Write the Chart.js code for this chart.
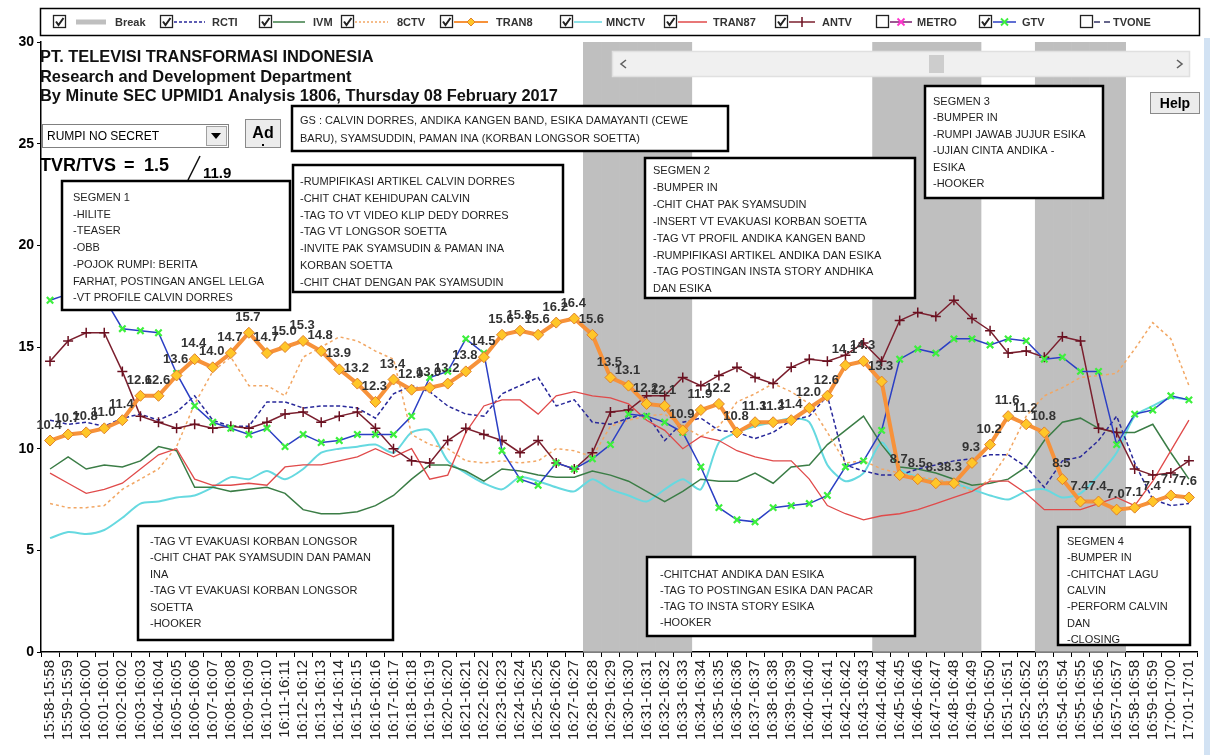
<!DOCTYPE html>
<html><head><meta charset="utf-8">
<script src="https://cdn.jsdelivr.net/npm/chart.js@4.4.1/dist/chart.umd.min.js"></script>
<style>html,body{margin:0;padding:0;background:#fff;}canvas{display:block;}</style>
</head><body>
<canvas id="c" width="1210" height="755"></canvas>
<script>
const timeLabels = ["15:58-15:58","15:59-15:59","16:00-16:00","16:01-16:01","16:02-16:02","16:03-16:03","16:04-16:04","16:05-16:05","16:06-16:06","16:07-16:07","16:08-16:08","16:09-16:09","16:10-16:10","16:11-16:11","16:12-16:12","16:13-16:13","16:14-16:14","16:15-16:15","16:16-16:16","16:17-16:17","16:18-16:18","16:19-16:19","16:20-16:20","16:21-16:21","16:22-16:22","16:23-16:23","16:24-16:24","16:25-16:25","16:26-16:26","16:27-16:27","16:28-16:28","16:29-16:29","16:30-16:30","16:31-16:31","16:32-16:32","16:33-16:33","16:34-16:34","16:35-16:35","16:36-16:36","16:37-16:37","16:38-16:38","16:39-16:39","16:40-16:40","16:41-16:41","16:42-16:42","16:43-16:43","16:44-16:44","16:45-16:45","16:46-16:46","16:47-16:47","16:48-16:48","16:49-16:49","16:50-16:50","16:51-16:51","16:52-16:52","16:53-16:53","16:54-16:54","16:55-16:55","16:56-16:56","16:57-16:57","16:58-16:58","16:59-16:59","17:00-17:00","17:01-17:01"];
const yTicks = [0,5,10,15,20,25,30];
const seriesNames = ["Break","RCTI","IVM","8CTV","TRAN8","MNCTV","TRAN87","ANTV","METRO","GTV","TVONE"];
const seriesChecked = [true,true,true,true,true,true,true,true,false,true,false];

const breakBand = [null,null,null,null,null,null,null,null,null,null,null,null,null,null,null,null,null,null,null,null,null,null,null,null,null,null,null,null,null,null,
 30,30,30,30,30,30,
 null,null,null,null,null,null,null,null,null,null,
 30,30,30,30,30,30,
 null,null,null,
 30,30,30,30,30,
 null,null,null,null];

const rcti = [11.4,11.2,11.3,11.1,11.5,11.7,11.4,11.8,12.6,11.4, 11.1,11.1,12.3,12.3,12.0,12.1,12.1,12.0,11.5,12.7, 13.1,12.8,12.1,11.7,11.6,12.7,13.1,13.5,12.1,12.4, 11.3,11.2,11.5,11.7,10.4,11.3,11.5,10.9,10.8,10.5, 10.8,11.4,11.6,12.6,9.2,8.9,8.7,8.7,9.0,9.2, 9.4,9.5,9.7,9.7,9.1,8.1,9.4,9.6,10.4,11.6, 9.3,7.5,7.2,7.3];
const ivm = [9.0,9.6,9.0,9.2,9.1,9.4,10.1,9.9,8.1,8.1, 7.9,8.0,8.1,7.8,7.0,6.8,6.8,6.9,7.2,7.7, 8.5,9.2,9.2,8.9,8.4,9.0,8.9,8.7,8.6,8.6, 8.9,8.7,8.4,7.9,7.4,7.9,8.5,8.4,8.4,8.8, 8.3,9.1,9.2,10.2,10.9,11.6,10.2,9.1,9.0,8.8, 8.5,8.2,8.3,8.5,9.1,10.4,11.3,11.5,11.0,10.8, 10.8,11.2,9.8,8.5];
const sctv = [7.3,7.1,7.1,7.2,8.0,8.5,9.0,10.1,12.2,13.8, 14.5,13.1,13.1,12.6,14.5,15.0,15.5,15.3,14.8,14.4, 10.7,10.2,10.0,9.4,9.3,9.4,9.3,9.4,10.0,9.9, 9.6,11.1,11.4,11.6,11.7,11.1,10.6,11.1,12.3,12.7, 13.2,12.8,12.2,10.8,9.3,9.4,9.0,8.8,8.6,8.5, 8.3,7.9,8.5,9.8,11.6,12.6,13.0,13.5,13.6,13.7, 14.9,16.2,15.4,13.1];
const trans = [10.4,10.7,10.8,11.0,11.4,12.6,12.6,13.6,14.4,14.0, 14.7,15.7,14.7,15.0,15.3,14.8,13.9,13.2,12.3,13.4, 12.9,13.0,13.2,13.8,14.5,15.6,15.8,15.6,16.2,16.4, 15.6,13.5,13.1,12.2,12.1,10.9,11.9,12.2,10.8,11.3, 11.3,11.4,12.0,12.6,14.1,14.3,13.3,8.7,8.5,8.3, 8.3,9.3,10.2,11.6,11.2,10.8,8.5,7.4,7.4,7.0, 7.1,7.4,7.7,7.6];
const mnctv = [5.6,5.9,5.8,6.0,6.6,7.3,7.4,7.6,7.7,8.1, 8.6,8.5,8.9,8.5,9.0,9.8,10.0,10.1,10.2,9.8, 10.8,10.9,9.4,8.8,8.3,8.0,8.6,8.4,8.1,7.9, 8.5,8.0,7.7,7.4,8.0,8.5,8.0,10.3,10.8,11.1, 11.3,11.5,11.3,9.2,8.4,8.8,10.3,9.0,8.6,8.4, 8.3,8.0,7.7,7.5,7.9,8.0,7.6,7.8,8.7,9.8, 11.6,12.1,12.5,12.4];
const trans7 = [8.8,8.3,7.8,8.0,8.3,9.0,9.7,10.0,8.5,8.2, 8.2,8.3,8.2,9.1,9.2,9.2,9.4,9.6,10.0,9.6, 10.0,8.5,8.7,10.8,12.1,12.4,12.4,11.7,12.6,12.8, 12.6,12.5,12.2,11.4,10.9,10.0,10.6,10.4,9.9,9.6, 9.4,9.4,8.5,7.2,6.8,6.5,6.7,6.8,7.0,7.3, 7.6,7.9,8.4,8.4,7.8,7.0,7.0,7.0,7.3,7.6, 7.2,8.4,9.9,11.4];
const antv = [14.3,15.3,15.7,15.7,13.8,11.6,11.3,11.0,11.2,11.0, 11.1,11.0,11.3,11.7,11.8,11.3,11.6,11.8,11.0,10.0, 9.4,9.3,10.4,11.0,10.7,10.4,9.8,10.4,9.3,9.0, 9.8,11.8,11.9,12.6,12.6,13.5,13.1,13.6,14.0,13.5, 13.2,14.0,14.4,14.3,14.6,15.2,14.3,16.3,16.7,16.5, 17.3,16.4,15.8,14.7,14.8,14.5,15.5,15.3,11.0,10.8, 9.0,8.7,8.8,9.4];
const gtv = [17.3,17.6,17.6,17.4,15.9,15.8,15.7,13.7,12.1,11.3, 11.0,10.7,11.0,10.1,10.7,10.3,10.4,10.7,10.7,10.7, 11.6,13.5,13.8,15.4,14.7,9.9,8.5,8.2,9.3,9.0, 9.5,10.2,11.7,11.6,11.3,10.8,9.1,7.1,6.5,6.4, 7.1,7.2,7.3,7.7,9.1,9.4,10.9,14.4,14.9,14.7, 15.4,15.4,15.1,15.4,15.3,14.4,14.5,13.8,13.8,10.2, 11.7,11.9,12.6,12.4];

const titleLines = ["PT. TELEVISI TRANSFORMASI INDONESIA","Research and Development Department","By Minute SEC UPMID1 Analysis 1806, Thursday 08 February 2017"];
const programName = "RUMPI NO SECRET";
const tvrText = ["TVR/TVS","=","1.5","11.9"];
const gsLines = ["GS : CALVIN DORRES, ANDIKA KANGEN BAND, ESIKA DAMAYANTI (CEWE","BARU), SYAMSUDDIN, PAMAN INA (KORBAN LONGSOR SOETTA)"];
const seg1Lines = ["SEGMEN 1","-HILITE","-TEASER","-OBB","-POJOK RUMPI: BERITA","FARHAT, POSTINGAN ANGEL LELGA","-VT PROFILE CALVIN DORRES"];
const box2Lines = ["-RUMPIFIKASI ARTIKEL CALVIN DORRES","-CHIT CHAT KEHIDUPAN CALVIN","-TAG TO VT VIDEO KLIP DEDY DORRES","-TAG VT LONGSOR SOETTA","-INVITE PAK SYAMSUDIN & PAMAN INA","KORBAN SOETTA","-CHIT CHAT DENGAN PAK SYAMSUDIN"];
const seg2Lines = ["SEGMEN 2","-BUMPER IN","-CHIT CHAT PAK SYAMSUDIN","-INSERT VT EVAKUASI KORBAN SOETTA","-TAG VT PROFIL ANDIKA KANGEN BAND","-RUMPIFIKASI ARTIKEL ANDIKA DAN ESIKA","-TAG POSTINGAN INSTA STORY ANDHIKA","DAN ESIKA"];
const seg3Lines = ["SEGMEN 3","-BUMPER IN","-RUMPI JAWAB JUJUR ESIKA","-UJIAN CINTA ANDIKA -","ESIKA","-HOOKER"];
const box6Lines = ["-TAG VT EVAKUASI KORBAN LONGSOR","-CHIT CHAT PAK SYAMSUDIN DAN PAMAN","INA","-TAG VT EVAKUASI KORBAN LONGSOR","SOETTA","-HOOKER"];
const box7Lines = ["-CHITCHAT ANDIKA DAN ESIKA","-TAG TO POSTINGAN ESIKA DAN PACAR","-TAG TO INSTA STORY ESIKA","-HOOKER"];
const seg4Lines = ["SEGMEN 4","-BUMPER IN","-CHITCHAT LAGU","CALVIN","-PERFORM CALVIN","DAN","-CLOSING"];

const FONT = '"Liberation Sans", Arial, sans-serif';

function fitText(ctx, text, x, y, w, weight, base) {
  ctx.font = weight + ' ' + base + 'px ' + FONT;
  const m = ctx.measureText(text).width;
  const size = base * w / m;
  ctx.font = weight + ' ' + size.toFixed(2) + 'px ' + FONT;
  ctx.fillText(text, x, y);
}
function textBox(ctx, r, lines, tx, ty, lh) {
  ctx.save();
  ctx.fillStyle = '#fff';
  ctx.fillRect(r[0], r[1], r[2]-r[0], r[3]-r[1]);
  ctx.lineWidth = 2.5; ctx.strokeStyle = '#000';
  ctx.strokeRect(r[0], r[1], r[2]-r[0], r[3]-r[1]);
  ctx.fillStyle = '#1e1e1e';
  ctx.font = '11px ' + FONT;
  ctx.textAlign = 'left'; ctx.textBaseline = 'alphabetic';
  lines.forEach((l, i) => ctx.fillText(l, tx, ty + i * lh));
  ctx.restore();
}
function checkbox(ctx, x, checked) {
  ctx.fillStyle = '#fff'; ctx.fillRect(x, 15, 13, 13);
  ctx.strokeStyle = '#222'; ctx.lineWidth = 1.3; ctx.strokeRect(x + 0.5, 15.5, 12, 12);
  if (checked) {
    ctx.beginPath(); ctx.moveTo(x + 3, 21.5); ctx.lineTo(x + 5.5, 25); ctx.lineTo(x + 10.5, 18);
    ctx.lineWidth = 2; ctx.stroke();
  }
}

const overlay = {
  id: 'overlay',
  beforeDraw(chart) {
    const ctx = chart.ctx; ctx.save(); ctx.fillStyle = '#fff'; ctx.fillRect(0, 0, chart.width, chart.height); ctx.restore();
  },
  afterDatasetsDraw(chart) {
    const ctx = chart.ctx;
    const meta = chart.getDatasetMeta(4);
    ctx.save();
    ctx.font = 'bold 13px ' + FONT;
    ctx.fillStyle = '#333'; ctx.textAlign = 'center'; ctx.textBaseline = 'alphabetic';
    meta.data.forEach((pt, i) => ctx.fillText(trans[i].toFixed(1), pt.x - 1, pt.y - 12));
    ctx.restore();
  },
  afterDraw(chart) {
    const ctx = chart.ctx;
    ctx.save();
    ctx.fillStyle = '#d2e2f3'; ctx.fillRect(1204, 38, 6, 717);
    ctx.fillStyle = '#111'; ctx.textAlign = 'left'; ctx.textBaseline = 'alphabetic';
    fitText(ctx, titleLines[0], 40, 62, 334, 'bold', 16);
    fitText(ctx, titleLines[1], 40, 82, 312, 'bold', 16);
    fitText(ctx, titleLines[2], 40, 101, 518, 'bold', 16);
    ctx.fillStyle = '#fff'; ctx.fillRect(42, 124, 186, 23);
    ctx.strokeStyle = '#808080'; ctx.lineWidth = 1; ctx.strokeRect(42.5, 124.5, 186, 23);
    ctx.fillStyle = '#000'; ctx.font = '12px ' + FONT; ctx.fillText(programName, 47, 140);
    ctx.fillStyle = '#ececec'; ctx.fillRect(206, 126, 21, 20);
    ctx.strokeStyle = '#a0a0a0'; ctx.strokeRect(206.5, 126.5, 20, 19);
    ctx.fillStyle = '#000'; ctx.beginPath(); ctx.moveTo(211, 133); ctx.lineTo(221, 133); ctx.lineTo(216, 139); ctx.closePath(); ctx.fill();
    ctx.fillStyle = '#ececec'; ctx.fillRect(245, 119, 36, 29);
    ctx.strokeStyle = '#8a8a8a'; ctx.strokeRect(245.5, 119.5, 35, 28);
    ctx.fillStyle = '#000'; ctx.font = 'bold 16px ' + FONT; ctx.textAlign = 'center'; ctx.fillText('Ad', 263, 138);
    ctx.fillRect(262, 144, 2, 2);
    ctx.textAlign = 'left';
    ctx.font = 'bold 18px ' + FONT;
    ctx.fillText(tvrText[0], 40, 171); ctx.fillText(tvrText[1], 124, 171); ctx.fillText(tvrText[2], 144, 171);
    ctx.strokeStyle = '#111'; ctx.lineWidth = 1.5; ctx.beginPath(); ctx.moveTo(188, 180); ctx.lineTo(200, 156); ctx.stroke();
    ctx.font = 'bold 15px ' + FONT; ctx.fillText(tvrText[3], 203, 178);
    ctx.fillStyle = '#f0f0f0'; ctx.fillRect(612, 51, 578, 26);
    ctx.strokeStyle = '#e0e0e0'; ctx.strokeRect(612.5, 51.5, 577, 25);
    ctx.fillStyle = '#cdcdcd'; ctx.fillRect(929, 55, 15, 18);
    ctx.strokeStyle = '#606060'; ctx.lineWidth = 1.6;
    ctx.beginPath(); ctx.moveTo(626, 60); ctx.lineTo(621, 64); ctx.lineTo(626, 68); ctx.stroke();
    ctx.beginPath(); ctx.moveTo(1177, 60); ctx.lineTo(1182, 64); ctx.lineTo(1177, 68); ctx.stroke();
    ctx.fillStyle = '#ececec'; ctx.fillRect(1150, 92, 50, 22);
    ctx.strokeStyle = '#8a8a8a'; ctx.lineWidth = 1; ctx.strokeRect(1150.5, 92.5, 49, 21);
    ctx.fillStyle = '#000'; ctx.font = 'bold 14px ' + FONT; ctx.textAlign = 'center'; ctx.fillText('Help', 1175, 108);
    ctx.textAlign = 'left';
    ctx.restore();

    textBox(ctx, [292, 106, 728, 151], gsLines, 300, 124, 18);
    textBox(ctx, [62, 181, 290, 310], seg1Lines, 73, 201, 16.7);
    textBox(ctx, [293, 165, 563, 292], box2Lines, 300, 185, 16.8);
    textBox(ctx, [645, 158, 915, 298], seg2Lines, 653, 174, 16.9);
    textBox(ctx, [925, 86, 1103, 198], seg3Lines, 933, 105, 16.4);
    textBox(ctx, [138, 526, 393, 640], box6Lines, 150, 545, 16.4);
    textBox(ctx, [647, 557, 915, 636], box7Lines, 660, 578, 16);
    textBox(ctx, [1058, 527, 1190, 645], seg4Lines, 1067, 545, 16.3);

    ctx.save();
    ctx.fillStyle = '#fff'; ctx.fillRect(40, 8, 1160, 28);
    ctx.strokeStyle = '#000'; ctx.lineWidth = 1.5; ctx.strokeRect(40.5, 8.5, 1159, 27);
    const pos = [[53,76,106,115],[160,174,205,212],[259,273,305,313],[341,355,388,397],[440,454,488,496],[560,574,602,606],[664,678,707,713],[775,789,815,822],[876,890,912,917],[979,993,1016,1022],[1080,1094,1110,1113]];
    const ly = 22;
    pos.forEach((p, i) => {
      checkbox(ctx, p[0], seriesChecked[i]);
      ctx.setLineDash([]);
      ctx.lineWidth = 1.5;
      switch (i) {
        case 0: ctx.strokeStyle = '#bfbfbf'; ctx.lineWidth = 5; break;
        case 1: ctx.strokeStyle = '#28289a'; ctx.setLineDash([3, 2]); break;
        case 2: ctx.strokeStyle = '#3b7d46'; break;
        case 3: ctx.strokeStyle = '#f2a764'; ctx.setLineDash([2, 2]); break;
        case 4: ctx.strokeStyle = '#f7923a'; ctx.lineWidth = 2; break;
        case 5: ctx.strokeStyle = '#66d9e0'; break;
        case 6: ctx.strokeStyle = '#e04a4a'; break;
        case 7: ctx.strokeStyle = '#7b1f2e'; break;
        case 8: ctx.strokeStyle = '#7b1f6e'; break;
        case 9: ctx.strokeStyle = '#2b3fc4'; break;
        case 10: ctx.strokeStyle = '#333366'; ctx.setLineDash([6, 4]); break;
      }
      ctx.beginPath(); ctx.moveTo(p[1], ly); ctx.lineTo(p[2], ly); ctx.stroke();
      ctx.setLineDash([]);
      const mx = (p[1] + p[2]) / 2;
      if (i === 4) {
        ctx.fillStyle = '#ffc628'; ctx.strokeStyle = '#e0802a'; ctx.lineWidth = 1;
        ctx.beginPath(); ctx.moveTo(mx, ly - 4); ctx.lineTo(mx + 4, ly); ctx.lineTo(mx, ly + 4); ctx.lineTo(mx - 4, ly); ctx.closePath(); ctx.fill(); ctx.stroke();
      } else if (i === 7) {
        ctx.strokeStyle = '#6a1020'; ctx.lineWidth = 1.5;
        ctx.beginPath(); ctx.moveTo(mx, ly - 5); ctx.lineTo(mx, ly + 5); ctx.stroke();
      } else if (i === 8 || i === 9) {
        ctx.strokeStyle = i === 8 ? '#ff33cc' : '#3df03d'; ctx.lineWidth = 1.8;
        ctx.beginPath(); ctx.moveTo(mx - 3.5, ly - 3.5); ctx.lineTo(mx + 3.5, ly + 3.5); ctx.moveTo(mx + 3.5, ly - 3.5); ctx.lineTo(mx - 3.5, ly + 3.5); ctx.stroke();
      }
      ctx.fillStyle = '#333'; ctx.font = 'bold 11px ' + FONT; ctx.textAlign = 'left'; ctx.textBaseline = 'middle';
      ctx.fillText(seriesNames[i], p[3], ly + 1);
    });
    ctx.restore();
  }
};

new Chart(document.getElementById('c'), {
  type: 'line',
  data: {
    labels: timeLabels,
    datasets: [
      { type: 'bar', label: seriesNames[0], data: breakBand, backgroundColor: '#bfbfbf', barPercentage: 1, categoryPercentage: 1, borderWidth: 0, order: 20 },
      { label: seriesNames[1], data: rcti, borderColor: '#28289a', borderWidth: 1.5, borderDash: [4, 2.5], pointRadius: 0, order: 5 },
      { label: seriesNames[2], data: ivm, borderColor: '#3b7d46', borderWidth: 1.5, pointRadius: 0, order: 7 },
      { label: seriesNames[3], data: sctv, borderColor: '#f2a764', borderWidth: 1.5, borderDash: [3, 3], pointRadius: 0, order: 6 },
      { label: seriesNames[4], data: trans, borderColor: '#f7923a', borderWidth: 4, pointStyle: 'rectRot', pointRadius: 5.5, pointBackgroundColor: '#ffc628', pointBorderColor: '#e0802a', pointBorderWidth: 1, order: 0 },
      { label: seriesNames[5], data: mnctv, borderColor: '#66d9e0', borderWidth: 2, pointRadius: 0, tension: 0.25, order: 8 },
      { label: seriesNames[6], data: trans7, borderColor: '#e04a4a', borderWidth: 1.3, pointRadius: 0, order: 4 },
      { label: seriesNames[7], data: antv, borderColor: '#7b1f2e', borderWidth: 1.5, pointStyle: 'cross', pointRadius: 5, pointBorderColor: '#6a1020', pointBorderWidth: 1.5, order: 2 },
      { label: seriesNames[9], data: gtv, borderColor: '#2b3fc4', borderWidth: 1.5, pointStyle: 'crossRot', pointRadius: 4.5, pointBorderColor: '#3df03d', pointBorderWidth: 2.2, order: 1 }
    ]
  },
  options: {
    responsive: false, animation: false, devicePixelRatio: 1,
    layout: { padding: { top: 42, right: 9, left: 0, bottom: 0 } },
    plugins: { legend: { display: false }, tooltip: { enabled: false }, title: { display: false } },
    scales: {
      x: {
        offset: true,
        grid: { offset: true, drawOnChartArea: false, tickLength: 5, color: '#000' },
        border: { color: '#000', width: 1.5 },
        ticks: { autoSkip: false, maxRotation: 90, minRotation: 90, padding: 3, color: '#222', font: { family: FONT, size: 15 } },
        afterFit: s => { s.height = 103; }
      },
      y: {
        min: 0, max: 30,
        afterBuildTicks: s => { s.ticks = yTicks.map(v => ({ value: v })); },
        grid: { drawOnChartArea: false, tickLength: 4, color: '#000' },
        border: { color: '#000', width: 1.5 },
        ticks: { padding: 3, color: '#000', font: { family: FONT, size: 14, weight: 'bold' } },
        afterFit: s => { s.width = 41; }
      }
    }
  },
  plugins: [overlay]
});
</script>
</body></html>
